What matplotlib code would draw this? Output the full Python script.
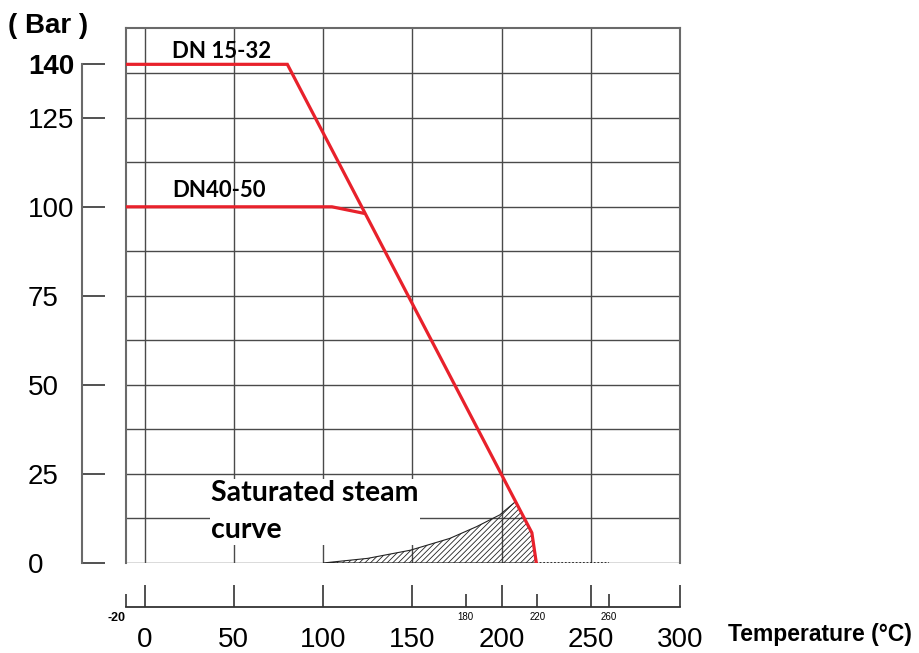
import numpy as np
import matplotlib.pyplot as plt
import matplotlib.transforms as mtransforms

# Pressure / temperature rating data
dn15_temp = [-20, 80, 217, 219.5]
dn15_bar = [140, 140, 8.5, 0]

dn40_temp = [-20, 105, 122.6]
dn40_bar = [100, 100, 98.2]

# saturated steam curve (upper edge of the hatched area)
steam_temp = [100, 125, 149, 171, 186, 199, 208]
steam_bar = [0, 1.3, 3.6, 6.9, 10.2, 13.5, 17.3]

# dotted tail along the bottom
tail_temp = [219.5, 260]
tail_bar = [0, 0]

y_ticks = [0, 25, 50, 75, 100, 125, 140]
y_labels = ['0', '25', '50', '75', '100', '125', '140']
x_ticks = [0, 50, 100, 150, 200, 250, 300]
x_labels = ['0', '50', '100', '150', '200', '250', '300']
x_minor = [180, 220, 260]
x_minor_labels = ['180', '220', '260']

x_grid = [0, 50, 100, 150, 200, 250]
y_grid = [0, 12.5, 25, 37.5, 50, 62.5, 75, 87.5, 100, 112.5, 125, 137.5]

RED = '#e8212b'
GRID = '#4a4a4a'
FRAME = '#6a6a6a'

plt.rcParams['font.family'] = ['Liberation Sans', 'DejaVu Sans']
plt.rcParams['hatch.linewidth'] = 0.6
plt.rcParams['hatch.color'] = '#2a2a2a'

fig = plt.figure(figsize=(9.2, 6.53), dpi=100)
ax = fig.add_axes([126 / 920, 90 / 653, 554 / 920, 535 / 653])
ax.set_xlim(-10.4, 300)
ax.set_ylim(0, 150.2)

# grid
for gx in x_grid:
    ax.axvline(gx, color=GRID, lw=1.0, zorder=1)
for gy in y_grid:
    ax.axhline(gy, color=GRID, lw=1.0, zorder=1)
ax.axvline(ax.get_xlim()[0], color=FRAME, lw=1.5, zorder=2, clip_on=False)

# hatched steam area, closed along the red rating line
poly_x = steam_temp + dn15_temp[-2:] + [steam_temp[0]]
poly_y = steam_bar + dn15_bar[-2:] + [0]
ax.fill(poly_x, poly_y, facecolor='none', edgecolor='#222222', hatch='//////',
        lw=0.8, zorder=3)

# rating lines
ax.plot(dn15_temp, dn15_bar, color=RED, lw=2.3, zorder=5, solid_joinstyle='miter')
ax.plot(dn40_temp, dn40_bar, color=RED, lw=2.3, zorder=5)
ax.plot(tail_temp, tail_bar, color='#222222', lw=1.3, ls=(0, (1, 1)), zorder=4)

# spines
for s in ['top', 'right']:
    ax.spines[s].set_color(FRAME)
    ax.spines[s].set_linewidth(1.5)
ax.spines['left'].set_position(('outward', 31.7))
ax.spines['left'].set_bounds(0, 140)
ax.spines['left'].set_color(FRAME)
ax.spines['left'].set_linewidth(1.5)
ax.spines['bottom'].set_position(('outward', 31.7))
ax.spines['bottom'].set_color('#333333')
ax.spines['bottom'].set_linewidth(1.3)

# y ticks
ax.set_yticks(y_ticks)
ax.set_yticklabels(y_labels)
ax.tick_params(axis='y', direction='in', length=16.6, width=1.1, color='#222222',
               labelsize=20, pad=39)
for lab in ax.get_yticklabels():
    lab.set_ha('left')
    if lab.get_text() == '140':
        lab.set_fontweight('bold')

# x ticks
ax.set_xticks(x_ticks)
ax.set_xticklabels(x_labels)
ax.tick_params(axis='x', which='major', direction='in', length=15.8, width=1.1,
               color='#222222', labelsize=20, pad=14.4)
ax.set_xticks([ax.get_xlim()[0]] + x_minor, minor=True)
ax.set_xticklabels(['-20'] + x_minor_labels, minor=True)
ax.tick_params(axis='x', which='minor', direction='in', length=9.4, width=1.1,
               color='#222222', labelsize=7, pad=3.5)
first = ax.get_xticklabels(minor=True)[0]
first.set_ha('right')
first.set_fontsize(9)
first.set_fontweight('bold')

# labels inside the plot
ax.text(15.4, 141.9, 'DN 15-32', family=['Lato', 'DejaVu Sans'], fontweight='bold',
        fontsize=16, va='baseline', zorder=6)
ax.text(15.4, 102.8, 'DN40-50', family=['Lato', 'DejaVu Sans'], fontweight='bold',
        fontsize=16, va='baseline', zorder=6)
ax.text(37.5, 14.4, 'Saturated steam\ncurve', family=['Lato', 'DejaVu Sans'],
        fontweight='bold', fontsize=20.5, va='center', linespacing=1.55, zorder=6,
        bbox=dict(facecolor='white', edgecolor='none', pad=1))

fig.text(8 / 920, 1 - 26 / 653, '( Bar )', fontsize=20, fontweight='bold', va='center')
fig.text(728 / 920, 1 - 635 / 653, 'Temperature (°C)', fontsize=16.5, fontweight='bold',
         va='center')

fig.savefig('out.png', dpi=100)
